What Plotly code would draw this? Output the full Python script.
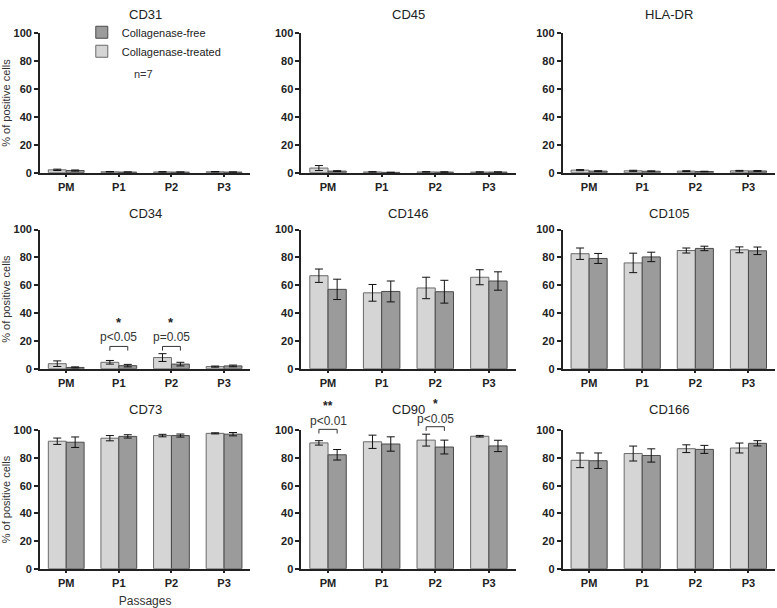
import plotly.graph_objects as go

# ---------------- data ----------------
passages = ["PM", "P1", "P2", "P3"]
markers = ["CD31", "CD45", "HLA-DR", "CD34", "CD146", "CD105", "CD73", "CD90", "CD166"]

treated_CD31 = [2.0, 0.6, 0.5, 0.6]
treated_CD31_err = [0.5, 0.2, 0.2, 0.2]
free_CD31 = [1.5, 0.4, 0.4, 0.4]
free_CD31_err = [0.4, 0.1, 0.1, 0.1]

treated_CD45 = [3.3, 0.5, 0.5, 0.4]
treated_CD45_err = [1.8, 0.2, 0.2, 0.2]
free_CD45 = [1.1, 0.2, 0.4, 0.4]
free_CD45_err = [0.3, 0.1, 0.2, 0.2]

treated_HLADR = [1.8, 1.3, 1.1, 1.3]
treated_HLADR_err = [0.4, 0.4, 0.3, 0.3]
free_HLADR = [1.1, 1.0, 0.8, 1.2]
free_HLADR_err = [0.3, 0.3, 0.2, 0.3]

treated_CD34 = [3.6, 4.6, 8.0, 1.5]
treated_CD34_err = [2.0, 1.3, 2.8, 0.4]
free_CD34 = [0.9, 2.2, 3.3, 2.0]
free_CD34_err = [0.4, 0.9, 1.3, 0.6]

treated_CD146 = [66.8, 54.5, 58.0, 65.7]
treated_CD146_err = [4.8, 6.0, 7.7, 5.4]
free_CD146 = [57.0, 55.5, 55.3, 63.0]
free_CD146_err = [7.3, 7.5, 8.2, 6.6]

treated_CD105 = [82.6, 76.0, 84.9, 85.4]
treated_CD105_err = [4.1, 7.0, 1.8, 2.1]
free_CD105 = [79.2, 80.3, 86.4, 84.7]
free_CD105_err = [3.6, 3.4, 1.6, 2.7]

treated_CD73 = [92.2, 94.4, 96.3, 97.9]
treated_CD73_err = [2.3, 1.9, 0.9, 0.4]
free_CD73 = [91.5, 95.7, 96.3, 97.3]
free_CD73_err = [3.8, 1.2, 1.1, 1.2]

treated_CD90 = [91.0, 91.8, 93.0, 95.8]
treated_CD90_err = [1.6, 4.8, 4.3, 0.6]
free_CD90 = [82.4, 90.2, 88.0, 88.8]
free_CD90_err = [3.8, 5.2, 5.0, 4.1]

treated_CD166 = [78.4, 83.3, 86.8, 87.3]
treated_CD166_err = [5.3, 5.4, 2.8, 3.6]
free_CD166 = [78.1, 81.9, 86.3, 90.7]
free_CD166_err = [5.6, 4.8, 2.9, 1.9]

# significance: (panel, passage index, bracket level, p text, stars)
significance = [
    ("CD34", 1, 16, "p<0.05", "*"),
    ("CD34", 2, 16, "p=0.05", "*"),
    ("CD90", 0, 100.8, "p<0.01", "**"),
    ("CD90", 2, 102.7, "p<0.05", "*"),
]

panel_data = {
    "CD31": (treated_CD31, treated_CD31_err, free_CD31, free_CD31_err),
    "CD45": (treated_CD45, treated_CD45_err, free_CD45, free_CD45_err),
    "HLA-DR": (treated_HLADR, treated_HLADR_err, free_HLADR, free_HLADR_err),
    "CD34": (treated_CD34, treated_CD34_err, free_CD34, free_CD34_err),
    "CD146": (treated_CD146, treated_CD146_err, free_CD146, free_CD146_err),
    "CD105": (treated_CD105, treated_CD105_err, free_CD105, free_CD105_err),
    "CD73": (treated_CD73, treated_CD73_err, free_CD73, free_CD73_err),
    "CD90": (treated_CD90, treated_CD90_err, free_CD90, free_CD90_err),
    "CD166": (treated_CD166, treated_CD166_err, free_CD166, free_CD166_err),
}

# ---------------- layout geometry ----------------
W, H = 777, 608
col_px = [(38, 249), (300, 515), (562, 775)]
row_px = [(28, 170), (228, 370), (433, 574)]
title_px = [9, 212, 412]
BARGAP = 0.32
# pixel offsets (p-text, stars, star size) of the significance labels per panel
sig_style = {"CD34": (9, 24, 13), "CD90": (8, 23, 12)}

FONT = "Liberation Sans, Arial, sans-serif"
LIGHT = "#d5d5d5"
DARK = "#9b9b9b"
EDGE = "#4a4a4a"

fig = go.Figure()
annotations = []
shapes = []
layout = {}

for i, name in enumerate(markers):
    r, c = divmod(i, 3)
    n = "" if i == 0 else str(i + 1)
    xa, ya = "x" + n, "y" + n
    tr, tr_e, fr, fr_e = panel_data[name]

    fig.add_trace(go.Bar(
        x=passages, y=tr, name="Collagenase-treated", legendgroup="t",
        showlegend=(i == 0), xaxis=xa, yaxis=ya,
        marker=dict(color=LIGHT, line=dict(color="#6a6a6a", width=1)),
        error_y=dict(type="data", array=tr_e, color="#111", thickness=1, width=4),
    ))
    fig.add_trace(go.Bar(
        x=passages, y=fr, name="Collagenase-free", legendgroup="f",
        showlegend=(i == 0), xaxis=xa, yaxis=ya,
        marker=dict(color=DARK, line=dict(color=EDGE, width=1)),
        error_y=dict(type="data", array=fr_e, color="#111", thickness=1, width=4),
    ))

    x0, x1 = col_px[c]
    y0, y1 = row_px[r]
    layout["xaxis" + n] = dict(
        domain=[x0 / W, x1 / W], anchor=ya, type="category",
        range=[-0.5, 3.5], showline=True, linecolor="#222", linewidth=1.5,
        ticks="outside", ticklen=3, tickwidth=1.5, tickcolor="#222",
        tickfont=dict(family=FONT, size=11, color="#222", weight="bold"),
        showgrid=False, zeroline=False, fixedrange=True,
    )
    layout["yaxis" + n] = dict(
        domain=[1 - y1 / H, 1 - y0 / H], anchor=xa, range=[0, 100],
        tickvals=[0, 20, 40, 60, 80, 100], showline=True, linecolor="#222",
        linewidth=1.5, ticks="outside", ticklen=4, tickwidth=1.5, tickcolor="#222",
        tickfont=dict(family=FONT, size=11, color="#222", weight="bold"),
        showgrid=False, zeroline=False, fixedrange=True,
    )
    if c == 0:
        layout["yaxis" + n]["title"] = dict(
            text="% of positive cells", font=dict(family=FONT, size=11, color="#333"),
            standoff=6)
    if i == 6:
        layout["xaxis" + n]["title"] = dict(
            text="Passages", font=dict(family=FONT, size=12, color="#333"), standoff=9)

    annotations.append(dict(
        text=name, x=(x0 + x1) / 2 / W, y=1 - title_px[r] / H, xref="paper",
        yref="paper", showarrow=False, xanchor="center", yanchor="middle",
        font=dict(family=FONT, size=13, color="#222"),
    ))

    # significance brackets (in axis-domain units so they may rise above 100)
    half = (1 - BARGAP) / 4  # centre offset of each bar in a group
    for (pname, k, lvl, ptxt, star) in significance:
        if pname != name:
            continue
        p_shift, s_shift, s_size = sig_style[pname]
        bx0 = (k - half + 0.5) / 4
        bx1 = (k + half + 0.5) / 4
        bxc = (k + 0.5) / 4
        by = lvl / 100
        drop = 3 / 100
        xr, yr = xa + " domain", ya + " domain"
        line = dict(color="#333", width=1)
        shapes.append(dict(type="line", xref=xr, yref=yr, x0=bx0, x1=bx1, y0=by, y1=by, line=line))
        shapes.append(dict(type="line", xref=xr, yref=yr, x0=bx0, x1=bx0, y0=by, y1=by - drop, line=line))
        shapes.append(dict(type="line", xref=xr, yref=yr, x0=bx1, x1=bx1, y0=by, y1=by - drop, line=line))
        annotations.append(dict(
            text=ptxt, x=bxc, y=by, xref=xr, yref=yr, showarrow=False,
            xanchor="center", yanchor="middle", yshift=p_shift,
            font=dict(family=FONT, size=12, color="#333")))
        annotations.append(dict(
            text=star, x=bxc, y=by, xref=xr, yref=yr, showarrow=False,
            xanchor="center", yanchor="middle", yshift=s_shift,
            font=dict(family=FONT, size=s_size, color="#222", weight="bold")))

annotations.append(dict(
    text="n=7", x=142 / W, y=1 - 69 / H, xref="paper", yref="paper",
    showarrow=False, xanchor="center", yanchor="middle",
    font=dict(family=FONT, size=11, color="#333")))

fig.update_layout(
    width=W, height=H, margin=dict(l=0, r=0, t=0, b=0),
    paper_bgcolor="white", plot_bgcolor="white",
    barmode="group", bargap=BARGAP, bargroupgap=0,
    showlegend=True,
    legend=dict(x=80 / W, y=1 - 12 / H, xanchor="left", yanchor="top",
                traceorder="reversed", bgcolor="rgba(0,0,0,0)",
                font=dict(family=FONT, size=11, color="#222")),
    annotations=annotations, shapes=shapes,
    **layout,
)

fig.write_html("out.html", config={"displayModeBar": False},
               post_script="document.body.style.margin='0';")
